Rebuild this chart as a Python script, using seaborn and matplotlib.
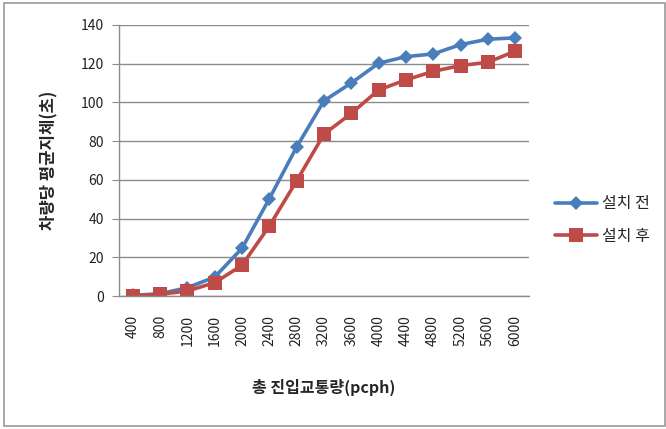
import matplotlib
matplotlib.use("Agg")
import matplotlib.pyplot as plt
import seaborn as sns
import pandas as pd
from matplotlib.patches import Rectangle

# data
flows = ['400', '800', '1200', '1600', '2000', '2400', '2800', '3200',
         '3600', '4000', '4400', '4800', '5200', '5600', '6000']
before = [0.3, 1.2, 4.3, 9.8, 24.7, 50.3, 77.0, 100.8, 110.0, 120.2,
          123.6, 125.0, 129.8, 132.6, 133.3]
after = [0.0, 0.9, 2.6, 6.9, 15.9, 36.2, 59.5, 83.6, 94.3, 106.4,
         111.6, 116.0, 119.0, 120.7, 126.4]
series_names = ['설치 전', '설치 후']

df = pd.DataFrame({
    'flow': flows * 2,
    'delay': before + after,
    'series': [series_names[0]] * len(flows) + [series_names[1]] * len(flows),
})

sns.set_style("white")
plt.rcParams['font.family'] = ['Noto Sans CJK KR', 'DejaVu Sans']

fig = plt.figure(figsize=(6.66, 4.29), dpi=100)
ax = fig.add_axes([0.179, 0.31, 0.615, 0.632])

palette = {series_names[0]: '#4A7EBB', series_names[1]: '#BE4B48'}
sns.lineplot(data=df, x='flow', y='delay', hue='series', style='series',
             markers={series_names[0]: 'D', series_names[1]: 's'},
             dashes=False, palette=palette, linewidth=2.6, sort=False,
             markeredgewidth=0, ax=ax)
# bigger square markers for the red series
for line, ms in zip(ax.lines, [7, 10]):
    line.set_markersize(ms)

ax.set_xlim(-0.5, len(flows) - 0.5)
ax.set_ylim(0, 140)
ax.set_yticks(range(0, 141, 20))
ax.yaxis.grid(True, color='#8c8c8c', linewidth=1)
ax.xaxis.grid(False)
ax.set_axisbelow(True)
for s in ['top', 'right']:
    ax.spines[s].set_visible(False)
for s in ['left', 'bottom']:
    ax.spines[s].set_color('#8c8c8c')
    ax.spines[s].set_linewidth(1)
ax.tick_params(axis='y', left=True, length=5, color='#8c8c8c',
               labelsize=10, labelcolor='#222222', pad=6)
ax.tick_params(axis='x', bottom=False, labelsize=10, labelcolor='#222222',
               labelrotation=90, pad=10)

ax.set_xlabel('총 진입교통량(pcph)', fontsize=11.5, fontweight='bold', labelpad=24)
ax.set_ylabel('차량당 평균지체(초)', fontsize=12, fontweight='bold', labelpad=16)

handles, labels = ax.get_legend_handles_labels()
for h, ms in zip(handles, [7, 10]):
    h.set_markersize(ms)
ax.legend(handles, labels, loc='center left', bbox_to_anchor=(1.03, 0.28),
          frameon=False, fontsize=11.5, handlelength=2.6, labelspacing=1.0,
          handletextpad=0.3)

fig.patches.append(Rectangle((0.006, 0.008), 0.992, 0.985, transform=fig.transFigure,
                             fill=False, edgecolor='#9a9a9a', linewidth=1.2))

fig.savefig('out.png', dpi=100)
